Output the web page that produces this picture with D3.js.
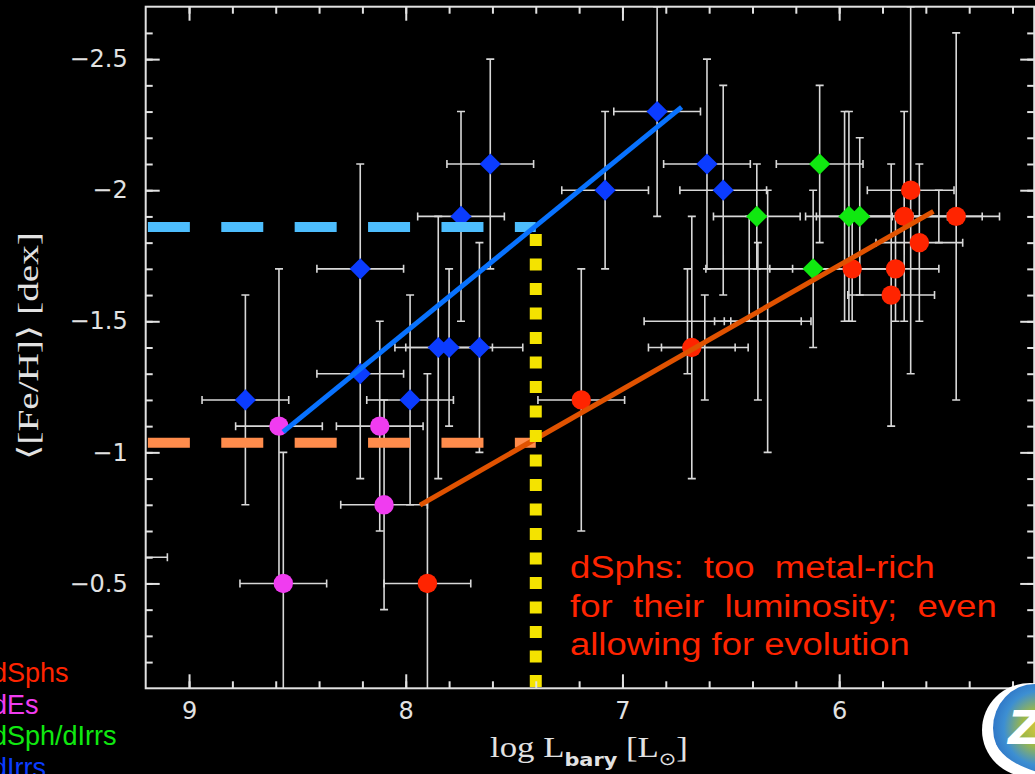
<!DOCTYPE html>
<html>
<head>
<meta charset="utf-8">
<script src="https://cdn.jsdelivr.net/npm/d3@7"></script>
<style>
  html, body { margin: 0; padding: 0; background: #000; }
  svg { display: block; }
  text { white-space: pre; }
</style>
</head>
<body>
<svg width="1035" height="774"></svg>
<script>
// each point: [log L_bary, <[Fe/H]>, x error, y error]
const dSphs = [
  [7.90, -0.5, 0.2, 0.8], [7.19, -1.2, 0.2, 0.5], [6.68, -1.4, 0.2, 0.5],
  [5.67, -2.0, 0.2, 0.7], [5.70, -1.9, 0.2, 0.4], [5.46, -1.9, 0.2, 0.7],
  [5.63, -1.8, 0.2, 0.3], [5.94, -1.7, 0.2, 0.2], [5.74, -1.7, 0.2, 0.2],
  [5.76, -1.6, 0.2, 0.5]
];
const dEs = [
  [8.585, -1.1, 0.2, 0.6], [8.565, -0.5, 0.2, 0.5], [8.12, -1.1, 0.2, 0.4], [8.10, -0.8, 0.2, 0.4]
];
const dSphdIrrs = [
  [6.38, -1.9, 0.2, 0.2], [6.09, -2.1, 0.2, 0.3], [5.955, -1.9, 0.2, 0.4],
  [5.905, -1.9, 0.2, 0.3], [6.12, -1.7, 0.2, 0.3]
];
const dIrrs = [
  [8.74, -1.2, 0.2, 0.4], [8.21, -1.7, 0.2, 0.4], [8.21, -1.3, 0.2, 0.4],
  [7.98, -1.2, 0.2, 0.4], [7.85, -1.4, 0.2, 0.5], [7.80, -1.4, 0.2, 0.3],
  [7.66, -1.4, 0.2, 0.4], [7.745, -1.9, 0.2, 0.4], [7.61, -2.1, 0.2, 0.4],
  [7.08, -2.0, 0.2, 0.3], [6.84, -2.3, 0.2, 0.4], [6.61, -2.1, 0.2, 0.4],
  [6.535, -2.0, 0.2, 0.4]
];
// error bars with no visible symbol (hidden or outside the frame)
const bareBars = [
  [6.70, -1.5, 0.2, 0.2], [6.375, -1.5, 0.2, 0.3], [6.33, -1.5, 0.2, 0.5],
  [6.415, -1.7, 0.2, 0.2], [6.62, -1.4, 0.2, 0.2], [5.54, -1.9, 0.2, 0.1],
  [5.975, -1.9, 0, 0.4], [9.30, -0.6, 0.2, 0]
];

const xMajor = [9, 8, 7, 6];
const yMajor = [-2.5, -2, -1.5, -1, -0.5];

// fitted relations and reference levels
const fitIrr = [[8.566, -1.078], [6.727, -2.317]];
const fitSph = [[7.934, -0.799], [5.565, -1.919]];
const irrLevel = -1.86;
const sphLevel = -1.037;
const cutL = 7.4;

const legendNames = ["dSphs", "dEs", "dSph/dIrrs", "dIrrs"];
const note = ["dSphs:  too  metal-rich", "for  their  luminosity;  even", "allowing for evolution"];

const svg = d3.select('svg');
svg.append("rect").attr("width", 1035).attr("height", 774).attr("fill", "#000");

const x = d3.scaleLinear().domain([9.2, 5.1]).range([145.7, 1034.2]);
const y = d3.scaleLinear().domain([-2.7, -0.1]).range([6.7, 688.3]);
const [x0, x1] = x.range(), [y0, y1] = y.range();

const series = [
  { data: dSphs, color: "#ff2400", shape: "circle" },
  { data: dEs, color: "#f03cf0", shape: "circle" },
  { data: dSphdIrrs, color: "#10e810", shape: "diamond" },
  { data: dIrrs, color: "#0b3cff", shape: "diamond" }
];

svg.append("clipPath").attr("id", "plot")
  .append("rect").attr("x", x0).attr("y", y0).attr("width", x1 - x0).attr("height", y1 - y0);

const plot = svg.append("g").attr("clip-path", "url(#plot)");

// error bars
const allBars = bareBars.concat(...series.map(s => s.data));
const bars = plot.append("g").attr("stroke", "#d8d8d8").attr("stroke-width", 1.6).attr("fill", "none");
const cap = 4;
allBars.forEach(function(d) {
  const cx = x(d[0]), cy = y(d[1]);
  let p = "";
  if (d[2] > 0) {
    const a = x(d[0] + d[2]), b = x(d[0] - d[2]);
    p += `M${a},${cy}H${b}M${a},${cy - cap}V${cy + cap}M${b},${cy - cap}V${cy + cap}`;
  }
  if (d[3] > 0) {
    const a = y(d[1] - d[3]), b = y(d[1] + d[3]);
    p += `M${cx},${a}V${b}M${cx - cap},${a}H${cx + cap}M${cx - cap},${b}H${cx + cap}`;
  }
  bars.append("path").attr("d", p);
});

// symbols
series.forEach(function(s) {
  const sym = s.shape == "circle"
    ? d3.symbol(d3.symbolCircle, 295)
    : d3.symbol(d3.symbolSquare, 225);
  plot.append("g").selectAll("path")
    .data(s.data)
    .enter().append("path")
      .attr("d", sym)
      .attr("fill", s.color)
      .attr("transform", d => `translate(${x(d[0])},${y(d[1])})` + (s.shape == "diamond" ? " rotate(45)" : ""));
});

// dashed reference levels
[[irrLevel, "#4dbdfd"], [sphLevel, "#ff8c4c"]].forEach(function(l) {
  plot.append("line")
    .attr("x1", x(9.19)).attr("x2", x(cutL))
    .attr("y1", y(l[0])).attr("y2", y(l[0]))
    .attr("stroke", l[1]).attr("stroke-width", 10)
    .attr("stroke-dasharray", "42 31.4");
});

// fits
const line = d3.line().x(d => x(d[0])).y(d => y(d[1]));
plot.append("path").attr("d", line(fitIrr)).attr("stroke", "#0872ff").attr("stroke-width", 5).attr("fill", "none");
plot.append("path").attr("d", line(fitSph)).attr("stroke", "#e05200").attr("stroke-width", 5).attr("fill", "none");

// luminosity cut
plot.append("line")
  .attr("x1", x(cutL)).attr("x2", x(cutL))
  .attr("y1", y(irrLevel) + 7).attr("y2", y1)
  .attr("stroke", "#f4e300").attr("stroke-width", 12)
  .attr("stroke-dasharray", "12 12.5");

// axes: ticks point inward on all four sides
const axisColor = "#e2e2e2";
const xMinor = d3.range(26, 46).map(i => i / 5);
const yMinor = d3.range(-26, -1).map(i => i / 10);
const fmt = d3.format("~g");

function addAxis(axis, tx, ty) {
  const g = svg.append("g").attr("transform", `translate(${tx},${ty})`).call(axis);
  g.select(".domain").remove();
  g.selectAll("line").attr("stroke", axisColor).attr("stroke-width", 2);
  g.selectAll("text").attr("fill", axisColor)
    .attr("font-family", "DejaVu Sans").attr("font-size", 24);
  return g;
}
addAxis(d3.axisBottom(x).tickValues(xMinor).tickSize(-7).tickFormat(""), 0, y1);
addAxis(d3.axisBottom(x).tickValues(xMajor).tickSize(-14).tickPadding(14).tickFormat(fmt), 0, y1);
addAxis(d3.axisTop(x).tickValues(xMinor).tickSize(-7).tickFormat(""), 0, y0);
addAxis(d3.axisTop(x).tickValues(xMajor).tickSize(-14).tickFormat(""), 0, y0);
addAxis(d3.axisLeft(y).tickValues(yMinor).tickSize(-7).tickFormat(""), x0, 0);
addAxis(d3.axisLeft(y).tickValues(yMajor).tickSize(-14).tickPadding(18).tickFormat(fmt), x0, 0);
addAxis(d3.axisRight(y).tickValues(yMinor).tickSize(-7).tickFormat(""), x1, 0);
addAxis(d3.axisRight(y).tickValues(yMajor).tickSize(-14).tickFormat(""), x1, 0);

svg.append("rect")
  .attr("x", x0).attr("y", y0).attr("width", x1 - x0).attr("height", y1 - y0)
  .attr("fill", "none").attr("stroke", axisColor).attr("stroke-width", 2);

// stretch a text element horizontally to a target width
function fitWidth(t, px, py, w) {
  const len = t.node().getComputedTextLength();
  t.attr("transform", `translate(${px},${py}) scale(${w / len},1)`);
}

// axis titles
const xt = svg.append("text").attr("fill", axisColor)
  .attr("font-family", "Liberation Serif").attr("font-size", 30);
xt.append("tspan").text("log L");
xt.append("tspan").text("bary").attr("font-size", 18).attr("font-family", "DejaVu Sans")
  .attr("font-weight", "bold").attr("dy", 9);
xt.append("tspan").text(" [L").attr("dy", -9);
xt.append("tspan").text("⊙").attr("font-size", 18).attr("font-family", "DejaVu Sans").attr("dy", 8);
xt.append("tspan").text("]").attr("dy", -8);
fitWidth(xt, 490, 757, 198);

const yt = svg.append("text").attr("fill", axisColor)
  .attr("font-family", "Liberation Serif, DejaVu Serif").attr("font-size", 29)
  .text("⟨[Fe/H]⟩ [dex]");
const ylen = yt.node().getComputedTextLength();
yt.attr("transform", `translate(38,${346 + 114}) rotate(-90) scale(${228 / ylen},1)`);

// legend (partly cut off at the left edge, as in the slide)
legendNames.forEach(function(n, i) {
  svg.append("text")
    .attr("x", -8).attr("y", 682 + i * 31.7)
    .attr("font-family", "Liberation Sans, Arial").attr("font-size", 27)
    .attr("fill", series[i].color)
    .text(n);
});

// annotation
const noteWidths = [365, 427, 340];
note.forEach(function(n, i) {
  const t = svg.append("text")
    .attr("font-family", "Liberation Sans, Arial").attr("font-size", 31)
    .attr("fill", "#ff2400")
    .text(n);
  fitWidth(t, 570, 578 + i * 38.7, noteWidths[i]);
});

// logo, bottom right
const defs = svg.append("defs");
const grad = defs.append("radialGradient").attr("id", "globe").attr("cx", "55%").attr("cy", "50%").attr("r", "60%");
grad.append("stop").attr("offset", "0%").attr("stop-color", "#d9c83a");
grad.append("stop").attr("offset", "35%").attr("stop-color", "#9bb84a");
grad.append("stop").attr("offset", "70%").attr("stop-color", "#3d8fd2");
grad.append("stop").attr("offset", "100%").attr("stop-color", "#2b6fc4");
const logo = svg.append("g").attr("transform", "translate(1030,730)");
logo.append("ellipse").attr("rx", 48).attr("ry", 47).attr("fill", "#fff");
logo.append("ellipse").attr("rx", 42).attr("ry", 44).attr("cx", 5).attr("cy", -2).attr("fill", "url(#globe)");
logo.append("path").attr("d", "M-46,0 C-46,35 -10,50 25,46 C-10,40 -38,25 -38,-2 Z").attr("fill", "#fff");
logo.append("text").attr("x", -22).attr("y", 14).attr("font-family", "DejaVu Sans")
  .attr("font-weight", "bold").attr("font-style", "italic").attr("font-size", 46)
  .attr("fill", "#fff").text("Z");
</script>
</body>
</html>
